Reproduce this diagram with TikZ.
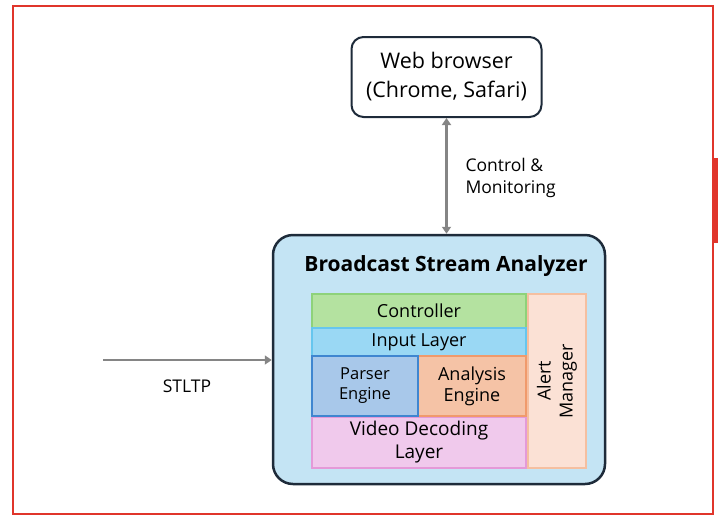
\documentclass[tikz,border=0pt]{standalone}
\usepackage{fontspec}
\setmainfont{Open Sans}
\usetikzlibrary{arrows.meta}
\definecolor{frame}{HTML}{E0352B}
\definecolor{ink}{HTML}{1E2B3A}
\definecolor{analyzerfill}{HTML}{C4E4F4}
\definecolor{ctrlfill}{HTML}{B4E2A0}\definecolor{ctrlline}{HTML}{8ED27A}
\definecolor{inputfill}{HTML}{9AD8F4}\definecolor{inputline}{HTML}{66C6EE}
\definecolor{parserfill}{HTML}{A8C8EA}\definecolor{parserline}{HTML}{3F86D0}
\definecolor{analysisfill}{HTML}{F5C3A6}\definecolor{analysisline}{HTML}{F09A6C}
\definecolor{videofill}{HTML}{F0C9EC}\definecolor{videoline}{HTML}{E49AD8}
\definecolor{alertfill}{HTML}{FBE1D5}\definecolor{alertline}{HTML}{F5BFA0}
\definecolor{wire}{HTML}{858585}
\begin{document}
\begin{tikzpicture}[x=1pt,y=-1pt,
  txt/.style={font=\fontsize{17.5}{22}\selectfont, text=black},
  layer/.style={draw, line width=2pt, inner sep=0pt, align=center,
    font=\fontsize{18}{21}\selectfont},
  conn/.style={draw=wire, line width=2.5pt,
    -{Triangle[length=7pt,width=9pt]}},
  biconn/.style={draw=wire, line width=2.5pt,
    {Triangle[length=7pt,width=9pt]}-{Triangle[length=7pt,width=9pt]}}]
  \useasboundingbox (0,0) rectangle (718,515);
  % outer red frame with the small tab on the right edge
  \draw[frame, line width=2pt] (12.5,5.5) rectangle (712.5,513.5);
  \fill[frame] (712.5,158) rectangle (718,243);

  % web browser
  \node[draw=ink, line width=2pt, rounded corners=12pt, fill=white,
    minimum width=190pt, minimum height=80pt, align=center,
    font=\fontsize{21.5}{29}\selectfont] (web) at (446.5,77)
    {Web browser\\(Chrome, Safari)};

  % analyzer container
  \node[draw=ink, line width=2.5pt, rounded corners=20pt, fill=analyzerfill,
    minimum width=332pt, minimum height=249pt] (bsa) at (439,359.5) {};
  \node[font=\fontsize{21}{25}\selectfont\bfseries] (title) at (446,266)
    {Broadcast Stream Analyzer};

  % inner layers
  \node[layer, draw=ctrlline, fill=ctrlfill, minimum width=214pt,
    minimum height=34pt] (ctrl) at (419,311) {Controller};
  \node[layer, draw=inputline, fill=inputfill, minimum width=214pt,
    minimum height=29pt] (input) at (419,342) {Input Layer};
  \node[layer, draw=videoline, fill=videofill, minimum width=214pt,
    minimum height=51pt, font=\fontsize{19}{23}\selectfont] (video)
    at (419,442) {Video Decoding\\Layer};
  \node[layer, draw=analysisline, fill=analysisfill, minimum width=108pt,
    minimum height=60pt] (analysis) at (472,386) {Analysis\\Engine};
  \node[layer, draw=parserline, fill=parserfill, minimum width=106pt,
    minimum height=60pt, font=\fontsize{16.5}{20}\selectfont] (parser)
    at (365,386) {Parser\\Engine};
  \node[layer, draw=alertline, fill=alertfill, minimum width=58pt,
    minimum height=174pt] (alert) at (557,381) {};
  \node[rotate=90, align=center, font=\fontsize{18}{22}\selectfont]
    (alertlbl) at (alert.center) {Alert\\Manager};

  % connectors
  \coordinate (src) at (103,360);
  \draw[conn] (src) -- (src -| bsa.west);
  \node[txt] (stltp) at (187,386) {STLTP};
  \draw[biconn] (web.south) -- (web.south |- bsa.north);
  \node[txt, align=left, anchor=west] (cm) at (462,178)
    {Control \&\\Monitoring};
\end{tikzpicture}
\end{document}
